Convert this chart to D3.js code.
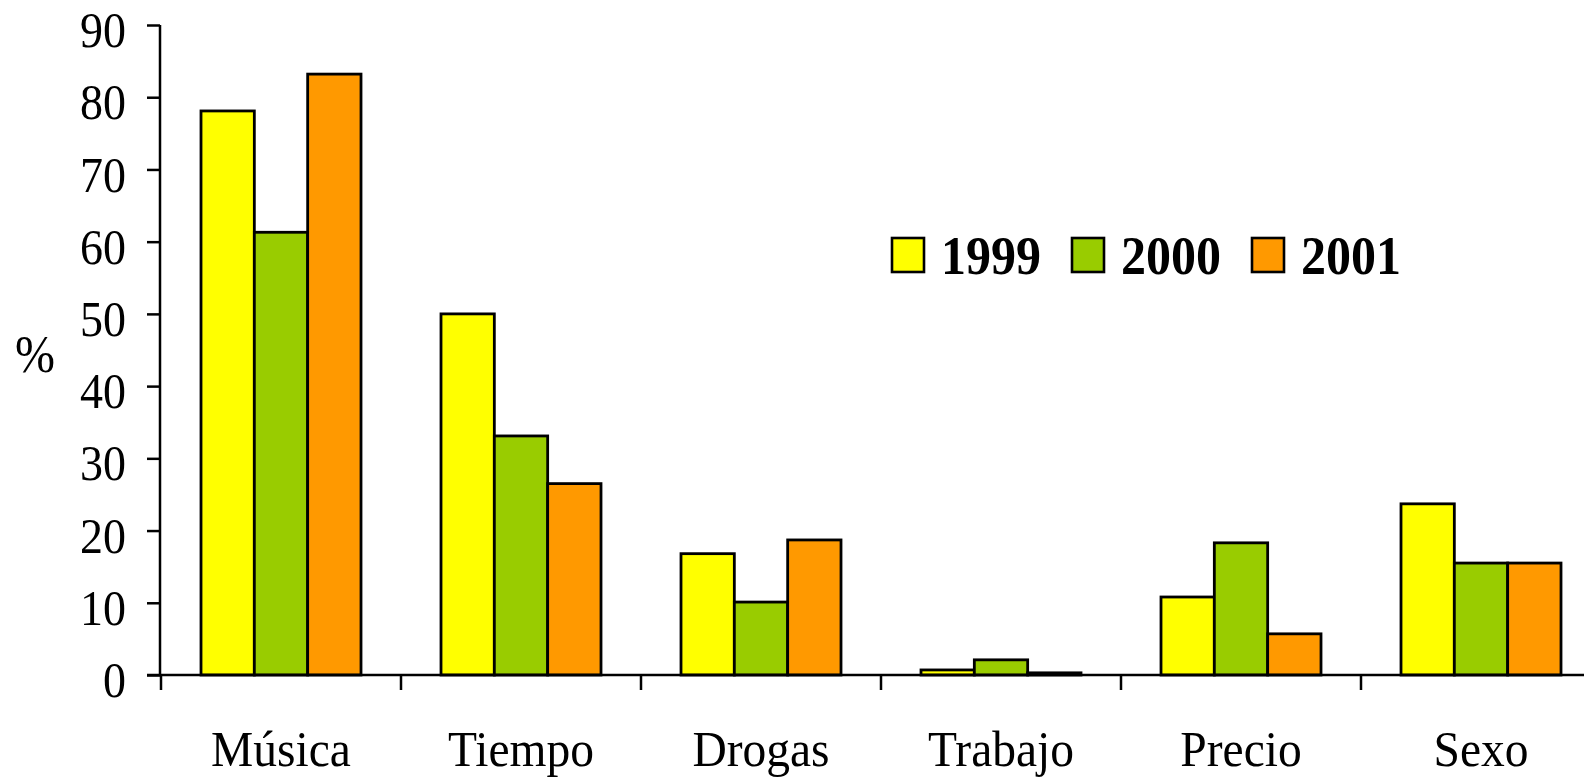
<!DOCTYPE html>
<html>
<head>
<meta charset="utf-8">
<script src="https://cdn.jsdelivr.net/npm/d3@7"></script>
<style>
  html, body { margin: 0; padding: 0; background: #fff; }
  svg { display: block; }
  text { font-family: "Liberation Serif", "Times New Roman", serif; fill: #000; }
</style>
</head>
<body>
<svg id="chart" width="1584" height="781"></svg>
<script>
const categories = ["Música", "Tiempo", "Drogas", "Trabajo", "Precio", "Sexo"];
const seriesNames = ["1999", "2000", "2001"];
const values1999 = [78.1, 50.0, 16.8, 0.7, 10.8, 23.7];
const values2000 = [61.3, 33.1, 10.1, 2.1, 18.3, 15.5];
const values2001 = [83.2, 26.5, 18.7, 0.3, 5.7, 15.5];
const yTicks = [0, 10, 20, 30, 40, 50, 60, 70, 80, 90];
const colors = ["#FFFF00", "#99CC00", "#FF9900"];
const yLabel = "%";

const allSeries = [values1999, values2000, values2001];

const svg = d3.select("#chart");

const axisX = 160, baseY = 675, topY = 25;

const y = d3.scaleLinear().domain([0, 90]).range([baseY, topY]);
const x0 = d3.scaleBand().domain(categories).range([axisX + 1, axisX + 1 + 240 * 6])
  .paddingInner(1 / 3).paddingOuter(1 / 6);
const x1 = d3.scaleBand().domain(seriesNames).range([0, x0.bandwidth()]).padding(0);

// bars
const groups = svg.append("g").selectAll("g")
  .data(categories)
  .join("g")
  .attr("transform", d => `translate(${x0(d)},0)`);

groups.selectAll("rect")
  .data((c, i) => seriesNames.map((s, j) => ({ s, j, v: allSeries[j][i] })))
  .join("rect")
  .attr("x", d => x1(d.s))
  .attr("width", x1.bandwidth())
  .attr("y", d => y(d.v))
  .attr("height", d => baseY - y(d.v))
  .attr("fill", d => colors[d.j])
  .attr("stroke", "#000")
  .attr("stroke-width", 2.8);

// y axis
const yAxis = svg.append("g")
  .attr("transform", `translate(${axisX},0)`)
  .call(d3.axisLeft(y).tickValues(yTicks).tickSize(13).tickPadding(21).tickFormat(d3.format("d")));
yAxis.select(".domain").attr("stroke", "#000").attr("stroke-width", 2.5)
  .attr("d", `M0,${topY}V${baseY}`);
yAxis.selectAll(".tick line").attr("stroke", "#000").attr("stroke-width", 2.5);
yAxis.selectAll(".tick text")
  .style("font-family", '"Liberation Serif", "Times New Roman", serif')
  .style("font-size", "46px")
  .attr("transform", "scale(1,1.12)")
  .attr("dy", "0.42em");

// x axis line and category boundary ticks
const xAxisG = svg.append("g");
xAxisG.append("line")
  .attr("x1", axisX - 13).attr("x2", x0.range()[1])
  .attr("y1", baseY).attr("y2", baseY)
  .attr("stroke", "#000").attr("stroke-width", 2.5);
const boundaries = categories.map(c => x0(c) - x0.step() * x0.paddingInner() / 2);
xAxisG.selectAll("line.bt")
  .data(boundaries)
  .join("line")
  .attr("class", "bt")
  .attr("x1", d => d).attr("x2", d => d)
  .attr("y1", baseY).attr("y2", baseY + 15)
  .attr("stroke", "#000").attr("stroke-width", 2.5);

// category labels
svg.append("g").selectAll("text")
  .data(categories)
  .join("text")
  .attr("text-anchor", "middle")
  .attr("transform", d => `translate(${x0(d) + x0.bandwidth() / 2},766) scale(1,1.07)`)
  .style("font-size", "47.5px")
  .text(d => d);

// y label
svg.append("text")
  .attr("text-anchor", "middle")
  .attr("transform", "translate(35,372) scale(1,1.08)")
  .style("font-size", "48px")
  .text(yLabel);

// legend
const legend = svg.append("g").selectAll("g")
  .data(seriesNames)
  .join("g")
  .attr("transform", (d, i) => `translate(${892 + i * 180},0)`);
legend.append("rect")
  .attr("x", 0).attr("y", 238).attr("width", 32).attr("height", 34)
  .attr("fill", (d, i) => colors[i])
  .attr("stroke", "#000").attr("stroke-width", 2.6);
legend.append("text")
  .attr("transform", "translate(49,274) scale(1,1.08)")
  .style("font-size", "50px")
  .style("font-weight", "bold")
  .text(d => d);
</script>
</body>
</html>
